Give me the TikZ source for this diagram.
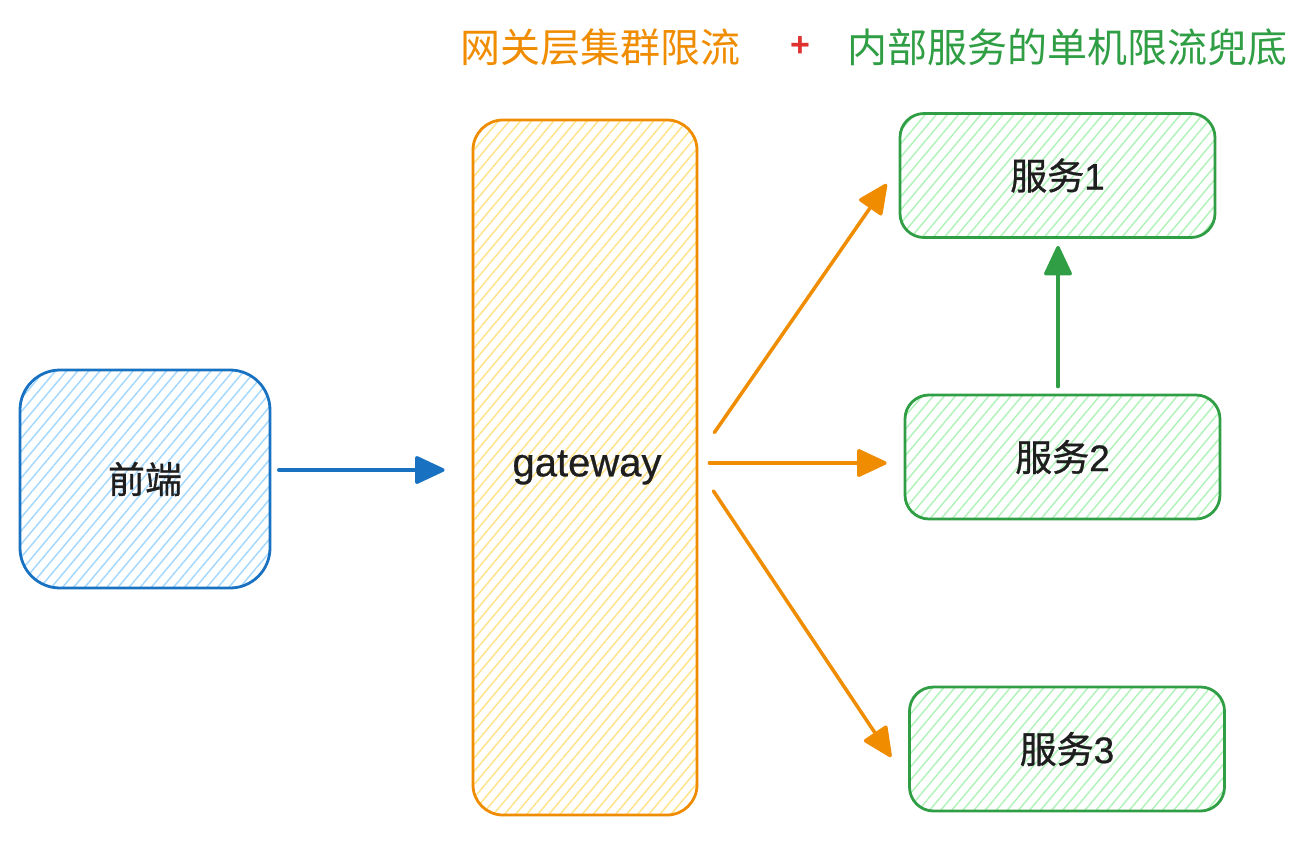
\documentclass[tikz,border=0pt]{standalone}
\usepackage{fontspec}
\setmainfont{Liberation Sans}
\newfontfamily\cjk{Noto Sans CJK SC}
\newfontfamily\cjkb[FakeBold=0.8]{Noto Sans CJK SC}
\newfontfamily\latb[FakeBold=0.6]{Liberation Sans}
\usetikzlibrary{patterns.meta,arrows.meta}
\definecolor{bstroke}{HTML}{1971C2}
\definecolor{bfill}{HTML}{A5D8FF}
\definecolor{ostroke}{HTML}{F08C00}
\definecolor{yfill}{HTML}{FFE38A}
\definecolor{gstroke}{HTML}{2F9E44}
\definecolor{gfill}{HTML}{B2F2BB}
\definecolor{txt}{HTML}{1E1E1E}
\definecolor{plusred}{HTML}{E03131}
\begin{document}
\begin{tikzpicture}[x=1pt,y=-1pt,
  box/.style={rectangle, line width=2.8pt, inner sep=0pt, text=txt,
    font=\latb\fontsize{37}{40}\selectfont,
    pattern={Lines[angle=50,distance=8.5pt,line width=1.5pt]}},
  bluebox/.style={box, draw=bstroke, pattern color=bfill},
  yellowbox/.style={box, draw=ostroke, pattern color=yfill},
  greenbox/.style={box, draw=gstroke, pattern color=gfill,
    minimum width=315pt, minimum height=124pt, rounded corners=24pt},
  flow/.style={line width=3.5pt, line cap=round, -{Triangle[length=32pt,width=29pt,round]}},
  title/.style={font=\fontsize{40}{44}\selectfont, inner sep=0pt}
]
\useasboundingbox (0,0) rectangle (1307,847);

% title
\node[title, text=ostroke] (t1) at (600,47) {{\cjk 网关层集群限流}};
\node[title, text=plusred, font=\bfseries\fontsize{34}{36}\selectfont] (plus) at (800,47) {+};
\node[title, text=gstroke] (t2) at (1067,47) {{\cjk 内部服务的单机限流兜底}};

% nodes
\node[bluebox, minimum width=250pt, minimum height=218pt, rounded corners=40pt] (fe) at (145,479) {{\cjkb 前端}};
\node[yellowbox, minimum width=224pt, minimum height=695pt, rounded corners=30pt, font=\latb\fontsize{40}{44}\selectfont] (gw) at (585,467.5) {\hspace*{4pt}gateway};
\node[greenbox] (s1) at (1057.5,175.5) {{\cjkb 服务}1};
\node[greenbox] (s2) at (1062.5,457) {{\cjkb 服务}2};
\node[greenbox] (s3) at (1067,749) {{\cjkb 服务}3};

% connectors
\draw[flow, bstroke] ([shift={(8,-9)}]fe.east) -- ([shift={(-27,2.5)}]gw.west);
\draw[flow, ostroke] ([shift={(16,-35)}]gw.east) -- ([shift={(-12,8.5)}]s1.west);
\draw[flow, ostroke] ([shift={(11,-4.5)}]gw.east) -- ([shift={(-17,6)}]s2.west);
\draw[flow, ostroke] ([shift={(15,23.5)}]gw.east) -- ([shift={(-17,8)}]s3.west);
\draw[flow, gstroke] ([shift={(-4.5,-7)}]s2.north) -- ([shift={(0.5,7)}]s1.south);
\end{tikzpicture}
\end{document}
